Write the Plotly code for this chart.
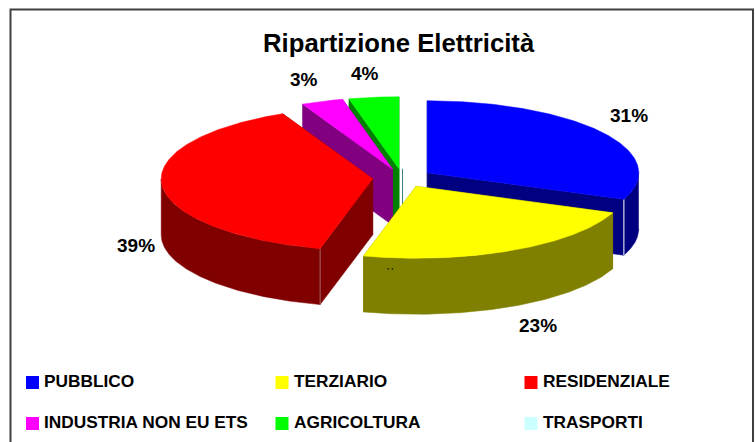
import numpy as np
import plotly.graph_objects as go

# ---- data ----
categories = ["PUBBLICO", "TERZIARIO", "RESIDENZIALE", "INDUSTRIA NON EU ETS", "AGRICOLTURA", "TRASPORTI"]
values = [31.0, 23.0, 39.0, 3.2, 3.8, 0.0]
top_colors = ["#0000FF", "#FFFF00", "#FF0000", "#FF00FF", "#00FF00", "#CCFFFF"]
side_colors = ["#000080", "#808000", "#800000", "#800080", "#008000", "#408080"]
title_text = "Ripartizione Elettricità"

# ---- projection of the 3D pie onto the page ----
CX, CY = 402.5, 178.0
RX, RY = 211.5, 72.0
DEPTH = 56.0
EXPLODE_X, EXPLODE_Y = 0.1415, 0.129
draw_order = [4, 3, 5, 0, 2, 1]

# ---- label and legend placement ----
label_pos = {0: (629, 115), 1: (538, 325), 2: (136, 245), 3: (304, 79), 4: (365, 73)}
legend_x = [32.5, 282, 531]
legend_y = [382.5, 423.5]

total = sum(values)
edges = np.cumsum([0.0] + values) / total * 360.0


def pt(theta_deg, rx=1.0, ry=1.0):
    t = np.radians(theta_deg)
    return rx * RX * np.sin(t), -ry * RY * np.cos(t)


def poly(fig, xs, ys, color, name):
    fig.add_trace(go.Scatter(
        x=list(xs), y=list(ys), mode="lines", fill="toself", fillcolor=color,
        line=dict(color=color, width=0.5), name=name, hoverinfo="skip", showlegend=False))


fig = go.Figure()
corner_lines = {0: "#FFFFFF", 2: "#A06060"}
for i in draw_order:
    a0, a1 = edges[i], edges[i + 1]
    mid = (a0 + a1) / 2
    ox, oy = pt(mid, EXPLODE_X, EXPLODE_Y)
    ax, ay = CX + ox, CY + oy
    name = categories[i]
    if values[i] == 0:
        fig.add_trace(go.Scatter(
            x=[ax, ax], y=[ay, ay + DEPTH], mode="lines",
            line=dict(color=side_colors[i], width=1), name=name,
            hoverinfo="skip", showlegend=False))
        continue
    for ang in (a0, a1):
        ex, ey = pt(ang)
        poly(fig, [ax, ax + ex, ax + ex, ax, ax],
             [ay, ay + ey, ay + ey + DEPTH, ay + DEPTH, ay], side_colors[i], name)
    w0, w1 = max(a0, 90.0), min(a1, 270.0)
    if w1 > w0:
        th = np.linspace(w0, w1, 120)
        wx, wy = pt(th)
        poly(fig, np.r_[ax + wx, (ax + wx)[::-1]],
             np.r_[ay + wy, (ay + wy + DEPTH)[::-1]], side_colors[i], name)
    if i in corner_lines:
        ang = a1 if i == 0 else a0
        ex, ey = pt(ang)
        fig.add_trace(go.Scatter(
            x=[ax + ex, ax + ex], y=[ay + ey, ay + ey + DEPTH], mode="lines",
            line=dict(color=corner_lines[i], width=1), name=name,
            hoverinfo="skip", showlegend=False))
    th = np.linspace(a0, a1, 200)
    tx, ty = pt(th)
    poly(fig, np.r_[ax, ax + tx, ax], np.r_[ay, ay + ty, ay], top_colors[i], name)

FONT = "Liberation Sans, Arial, sans-serif"

for i, (lx, ly) in label_pos.items():
    fig.add_annotation(x=lx, y=ly, text=f"<b>{round(values[i])}%</b>", showarrow=False,
                       font=dict(family=FONT, size=19, color="#000000"))

fig.add_annotation(x=390, y=270, text="<b>' '</b>", showarrow=False,
                   font=dict(family=FONT, size=8, color="#000000"))

for i, c in enumerate(categories):
    lx = legend_x[i % 3]
    ly = legend_y[i // 3]
    fig.add_trace(go.Scatter(x=[lx], y=[ly], mode="markers", name=c, hoverinfo="skip",
                             showlegend=False,
                             marker=dict(symbol="square", size=13, color=top_colors[i], line=dict(width=0))))
    fig.add_annotation(x=lx + 9.5, y=ly - 1.5, text=f"<b>{c}</b>", showarrow=False, xanchor="left",
                       font=dict(family=FONT, size=17.3, color="#000000"))

fig.add_annotation(x=398.5, y=43, text=f"<b>{title_text}</b>", showarrow=False,
                   font=dict(family=FONT, size=25.7, color="#000000"))

fig.add_shape(type="rect", x0=10.5, x1=753, y0=9.5, y1=470, line=dict(color="#404040", width=2),
              fillcolor="rgba(0,0,0,0)", layer="above")

fig.update_layout(
    width=755, height=442, margin=dict(l=0, r=0, t=0, b=0),
    paper_bgcolor="#FFFFFF", plot_bgcolor="#FFFFFF", showlegend=False,
    xaxis=dict(range=[0, 755], visible=False, fixedrange=True),
    yaxis=dict(range=[442, 0], visible=False, fixedrange=True),
)
fig.write_html("out.html", config={"displayModeBar": False},
               post_script="document.body.style.margin='0';document.documentElement.style.overflow='hidden';")
